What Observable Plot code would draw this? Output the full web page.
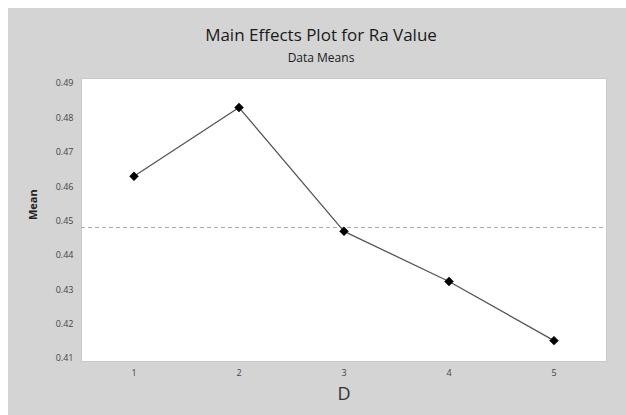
<!DOCTYPE html>
<html>
<head>
<meta charset="utf-8">
<script src="https://cdn.jsdelivr.net/npm/d3@7"></script>
<script src="https://cdn.jsdelivr.net/npm/@observablehq/plot@0.6"></script>
<style>
  html, body { margin: 0; padding: 0; background: #ffffff; }
  #panel { position: absolute; left: 8px; top: 8px; width: 618px; height: 407px; background: #d4d4d4; font-family: "Open Sans", "Noto Sans", sans-serif; }
  #header { position: relative; height: 62px; }
  #title { position: absolute; left: 0; width: 626px; top: 16px; text-align: center; font-size: 17px; line-height: 22px; color: #1a1a1a; }
  #subtitle { position: absolute; left: 0; width: 626px; top: 42px; text-align: center; font-size: 12px; line-height: 16px; color: #1a1a1a; }
  #chart svg { display: block; }
</style>
</head>
<body>
<div id="panel">
  <div id="header">
    <div id="title">Main Effects Plot for Ra Value</div>
    <div id="subtitle">Data Means</div>
  </div>
  <div id="chart"></div>
</div>
<script>
const levels = [1, 2, 3, 4, 5];
const means = [0.463, 0.483, 0.447, 0.4324, 0.4152];
const yTicks = [0.41, 0.42, 0.43, 0.44, 0.45, 0.46, 0.47, 0.48, 0.49];
const xLabel = "D";
const yLabel = "Mean";

const data = levels.map((d, i) => ({level: d, mean: means[i]}));
const overall = d3.mean(means);

const chart = Plot.plot({
  width: 618,
  height: 345,
  marginLeft: 73,
  marginRight: 20,
  marginTop: 8,
  marginBottom: 54,
  style: {background: "transparent", fontFamily: "'Open Sans', 'Noto Sans', sans-serif"},
  x: {domain: [0.5, 5.5], ticks: levels, tickFormat: d => String(d), tickSize: 0, tickPadding: 8, label: null},
  y: {domain: [0.40913, 0.49145], ticks: yTicks, tickFormat: d3.format(".2f"), tickSize: 0, tickPadding: 8, label: null},
  marks: [
    Plot.frame({fill: "white", stroke: "#c9c9c9"}),
    Plot.ruleY([overall], {stroke: "#aaaaaa", strokeDasharray: "4,3", strokeWidth: 1}),
    Plot.line(data, {x: "level", y: "mean", stroke: "#555555", strokeWidth: 1.3}),
    Plot.dot(data, {x: "level", y: "mean", symbol: "diamond2", r: 4, fill: "#000000", stroke: "#000000", strokeWidth: 0.5}),
    Plot.axisX({ticks: levels, tickFormat: d => String(d), tickSize: 0, tickPadding: 8, fontSize: 9, color: "#444", label: null}),
    Plot.axisY({ticks: yTicks, tickFormat: d3.format(".2f"), tickSize: 0, tickPadding: 8, fontSize: 9, color: "#444", label: null}),
    Plot.text([xLabel], {frameAnchor: "bottom", dy: 38, text: d => d, fontSize: 18, fill: "#333"}),
    Plot.text([yLabel], {frameAnchor: "left", dx: -48, rotate: -90, text: d => d, fontSize: 11, fontWeight: "bold", fill: "#222"})
  ]
});
document.getElementById("chart").appendChild(chart);
</script>
</body>
</html>
